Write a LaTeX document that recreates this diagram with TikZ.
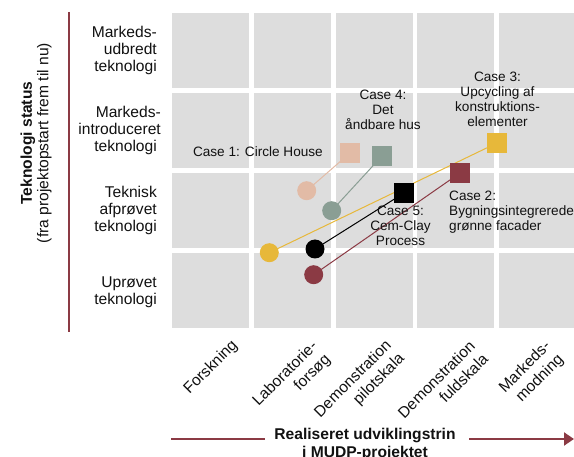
\documentclass[tikz,border=0pt]{standalone}
\usepackage{fontspec}
\setmainfont{Liberation Sans}
\usetikzlibrary{arrows.meta}
\definecolor{cellgray}{HTML}{DDDDDD}
\definecolor{axisred}{HTML}{8B3A44}
\definecolor{cpink}{HTML}{E2BBA6}
\definecolor{csage}{HTML}{8A9E94}
\definecolor{cyellow}{HTML}{E7B83A}
\definecolor{cmaroon}{HTML}{8B3A44}
\definecolor{txt}{HTML}{111111}
\pgfdeclarelayer{bg}
\pgfsetlayers{bg,main}
\begin{document}
\begin{tikzpicture}[x=1pt,y=-1pt,
  every node/.style={text=txt},
  rowlab/.style={align=right, anchor=east, inner sep=0pt, font=\fontsize{15.6}{16.7}\selectfont},
  collab/.style={align=right, anchor=north east, rotate=45, inner sep=0pt, font=\fontsize{15.6}{18.5}\selectfont},
  caselab/.style={align=center, inner sep=0pt, font=\fontsize{13.6}{15}\selectfont},
  sqmark/.style={rectangle, minimum size=20pt, inner sep=0pt},
  dotmark/.style={circle, minimum size=19pt, inner sep=0pt},
  link/.style={line width=1pt},
  axisline/.style={axisred, line width=2pt}]
\useasboundingbox (0,0) rectangle (574,457);

% grid cells
\begin{pgfonlayer}{bg}
\foreach \cx in {172,254,336,417,499}
  \foreach \cy in {13,93,173,253}
    \fill[cellgray] (\cx,\cy) rectangle ++(77,75.5);
\end{pgfonlayer}

% axis title (y)
\node[rotate=90, align=center, inner sep=0pt, font=\fontsize{15.6}{16.5}\selectfont] (ytitle) at (36,143)
  {\textbf{Teknologi status}\\(fra projektopstart frem til nu)};

% y axis line
\coordinate (ytop) at (69,12);
\coordinate (ybot) at (69,332);
\draw[axisline] (ytop) -- (ybot);

% row labels
\node[rowlab] (r1) at (157,50.5) {Markeds-\\udbredt\\teknologi};
\node[rowlab] (r2) at (161,130.5) {Markeds-\\introduceret\\teknologi\hspace*{4pt}};
\node[rowlab] (r3) at (157,210.5) {Teknisk\\afprøvet\\teknologi};
\node[rowlab] (r4) at (157,292) {Uprøvet\\teknologi};

% column labels
\node[collab] (k1) at (230,338) {Forskning};
\node[collab] (k2) at (310,339) {Laboratorie-\\forsøg};
\node[collab] (k3) at (384,338) {Demonstration\\pilotskala};
\node[collab] (k4) at (468,339) {Demonstration\\fuldskala};
\node[collab] (k5) at (543,339) {Markeds-\\modning};

% x axis title and arrow
\node[align=center, inner sep=0pt, font=\fontsize{15.6}{18}\selectfont\bfseries] (xtitle) at (365,444.5)
  {Realiseret udviklingstrin\\i MUDP-projektet};
\coordinate (xa1) at (171,439);
\coordinate (xa2) at (265,439);
\coordinate (xb1) at (469,439);
\coordinate (xb2) at (574,439);
\draw[axisline] (xa1) -- (xa2);
\draw[axisline, -{Triangle[length=10pt,width=13pt]}] (xb1) -- (xb2);

% markers
\node[sqmark, fill=cpink] (s1) at (350,153) {};
\node[dotmark, fill=cpink] (d1) at (306.7,190.7) {};
\node[sqmark, fill=csage] (s4) at (382,156) {};
\node[dotmark, fill=csage] (d4) at (331.7,210.7) {};
\node[sqmark, fill=cyellow] (s3) at (497,143) {};
\node[dotmark, fill=cyellow] (d3) at (269.3,252.7) {};
\node[sqmark, fill=cmaroon] (s2) at (460,173) {};
\node[dotmark, fill=cmaroon] (d2) at (313.7,274.7) {};
\node[sqmark, fill=black] (s5) at (404,193) {};
\node[dotmark, fill=black] (d5) at (315,249) {};

% connecting lines behind markers
\begin{pgfonlayer}{bg}
\draw[link, cpink] (d1.center) -- (s1.center);
\draw[link, csage] (d4.center) -- (s4.center);
\draw[link, cyellow] (d3.center) -- (s3.center);
\draw[link, cmaroon] (d2.center) -- (s2.center);
\draw[link, black] (d5.center) -- (s5.center);
\end{pgfonlayer}

% case labels
\node[caselab, anchor=east] (l1) at (323,152) {Case 1: Circle House};
\node[caselab] (l4) at (383,110) {Case 4:\\Det\\åndbare hus};
\node[caselab] (l3) at (497.5,99) {Case 3:\\Upcycling af\\konstruktions-\\elementer};
\node[caselab, align=left, anchor=west] (l2) at (449,212) {Case 2:\\Bygningsintegrerede\\grønne facader};
\node[caselab] (l5) at (400.5,226) {Case 5:\\Cem-Clay\\Process};
\end{tikzpicture}
\end{document}
